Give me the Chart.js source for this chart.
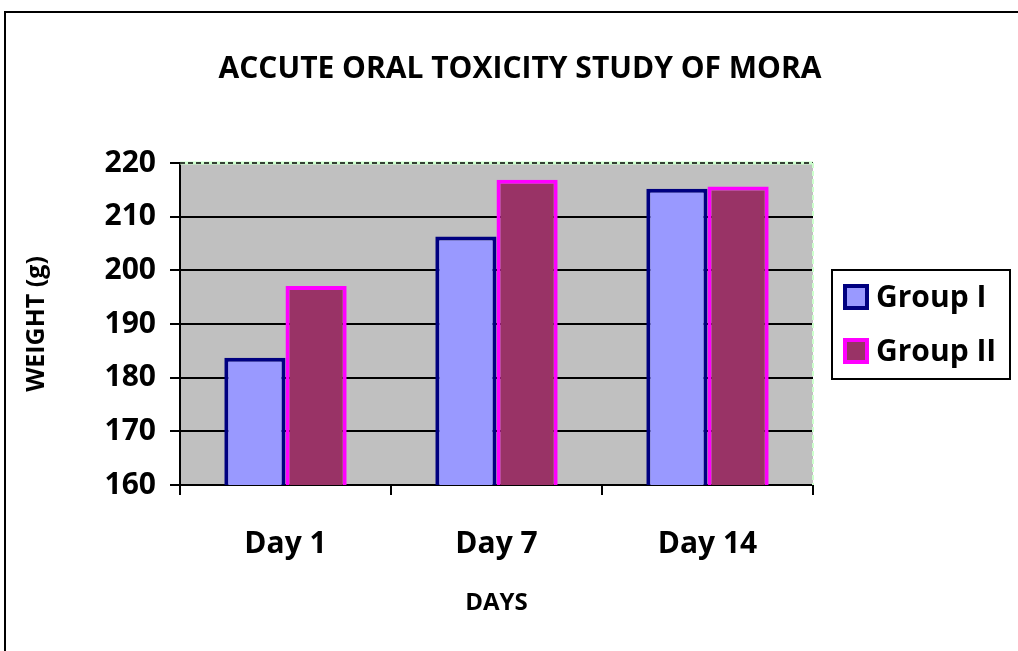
<!DOCTYPE html>
<html><head><meta charset="utf-8">
<script src="https://cdn.jsdelivr.net/npm/chart.js"></script>
<style>html,body{margin:0;padding:0;background:#fff;}#wrap{width:1018px;height:651px;position:relative;}</style>
</head><body><div id="wrap"><canvas id="c" width="1018" height="651"></canvas></div>
<script>
const categories = ["Day 1", "Day 7", "Day 14"];
const groupI = [183.7, 206.3, 215.2];
const groupII = [197.1, 216.9, 215.6];
const seriesNames = ["Group I", "Group II"];
const yTicks = [160, 170, 180, 190, 200, 210, 220];
const chartTitle = "ACCUTE ORAL TOXICITY STUDY OF MORA";
const yTitle = "WEIGHT (g)";
const xTitle = "DAYS";

const F = "'Open Sans', Lato, sans-serif";

const decor = {
  id: 'decor',
  beforeDraw(chart) {
    const {ctx, chartArea: a} = chart;
    ctx.save();
    ctx.fillStyle = '#C0C0C0';
    ctx.fillRect(a.left, a.top, a.right - a.left, a.bottom - a.top);
    ctx.restore();
  },
  afterDraw(chart) {
    const {ctx, chartArea: a} = chart;
    ctx.save();
    // outer frame
    ctx.strokeStyle = '#000'; ctx.lineWidth = 2;
    ctx.beginPath(); ctx.moveTo(5, 651); ctx.lineTo(5, 12); ctx.lineTo(1018, 12); ctx.stroke();
    // top dashed border
    ctx.strokeStyle = '#CCFFCC'; ctx.lineWidth = 3;
    ctx.beginPath(); ctx.moveTo(a.left, a.top); ctx.lineTo(a.right, a.top); ctx.stroke();
    ctx.setLineDash([5, 3]);
    ctx.strokeStyle = '#000'; ctx.lineWidth = 1.5;
    ctx.beginPath(); ctx.moveTo(a.left, a.top); ctx.lineTo(a.right, a.top); ctx.stroke();
    // right dashed border
    ctx.strokeStyle = '#CCFFCC'; ctx.lineWidth = 2;
    ctx.beginPath(); ctx.moveTo(a.right, a.top); ctx.lineTo(a.right, a.bottom); ctx.stroke();
    ctx.setLineDash([]);
    // title
    ctx.fillStyle = '#000';
    ctx.font = "bold 30px " + F;
    ctx.textAlign = 'center'; ctx.textBaseline = 'middle';
    ctx.fillText(chartTitle, 520, 69);
    // legend
    ctx.strokeStyle = '#000'; ctx.lineWidth = 2;
    ctx.strokeRect(832, 270, 178, 109);
    chart.data.datasets.forEach((ds, i) => {
      const y = 284 + i * 54;
      ctx.fillStyle = ds.borderColor;
      ctx.fillRect(843, y, 26, 26);
      ctx.fillStyle = ds.backgroundColor;
      ctx.fillRect(847, y + 4, 18, 18);
      ctx.fillStyle = '#000';
      ctx.font = "bold 30px " + F;
      ctx.textAlign = 'left'; ctx.textBaseline = 'middle';
      ctx.fillText(ds.label, 876, y + 14);
    });
    ctx.restore();
  }
};

new Chart(document.getElementById('c'), {
  type: 'bar',
  data: {
    labels: categories,
    datasets: [
      {label: seriesNames[0], data: groupI, backgroundColor: '#9999FF', borderColor: '#000080', borderWidth: 4, borderSkipped: false},
      {label: seriesNames[1], data: groupII, backgroundColor: '#993366', borderColor: '#FF00FF', borderWidth: 4, borderSkipped: false}
    ]
  },
  options: {
    responsive: false,
    animation: false,
    layout: {padding: {left: 20, top: 163, right: 205, bottom: 33}},
    datasets: {bar: {barPercentage: 1.0, categoryPercentage: 0.58}},
    plugins: {legend: {display: false}, title: {display: false}, tooltip: {enabled: false}},
    scales: {
      x: {
        grid: {display: true, offset: true, drawOnChartArea: false, drawTicks: true, tickLength: 10, color: '#000', lineWidth: 2},
        border: {display: true, color: '#000', width: 2},
        ticks: {color: '#000', font: {family: F, size: 30, weight: 'bold'}, padding: 31},
        title: {display: true, text: xTitle, color: '#000', font: {family: F, size: 24, weight: 'bold'}, padding: {top: 0, bottom: 0}},
        afterFit(s) { s.height = 133; }
      },
      y: {
        min: 160, max: 220,
        afterBuildTicks(s) { s.ticks = yTicks.map(v => ({value: v})); },
        grid: {color: ctx => (ctx.tick && ctx.tick.value === 220) ? 'rgba(0,0,0,0)' : '#000', lineWidth: 2, tickLength: 10, tickColor: '#000'},
        border: {display: true, color: '#000', width: 2},
        ticks: {color: '#000', font: {family: F, size: 30, weight: 'bold'}, padding: 14},
        title: {display: true, text: yTitle, color: '#000', font: {family: F, size: 25, weight: 'bold'}, padding: {top: 2, bottom: 0}},
        afterFit(s) { s.width = 160; }
      }
    }
  },
  plugins: [decor]
});
</script></body></html>
